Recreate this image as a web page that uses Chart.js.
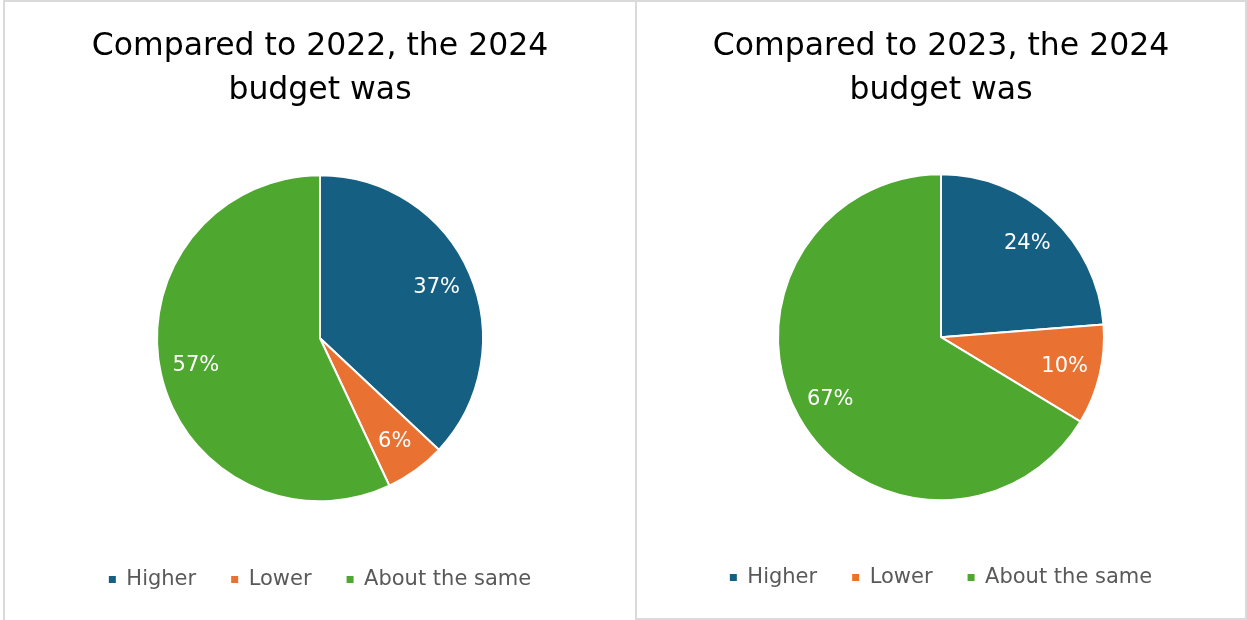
<!doctype html>
<html lang="en">
  <head>
    <meta charset="utf-8">
    <title>2024 budget comparison</title>
    <style>
      body { margin: 0; background: #fff; }
      .panel { position: absolute; top: 0; box-sizing: border-box; border: 2px solid #dadada; background: #fff; }
      #panel-left { left: 3px; width: 634px; height: 624px; }
      #panel-right { left: 635px; width: 612px; height: 620px; }
    </style>
  </head>
  <body>
    <div class="panel" id="panel-left"><canvas id="pie-2022"></canvas></div>
    <div class="panel" id="panel-right"><canvas id="pie-2023"></canvas></div>

    <script src="https://cdn.jsdelivr.net/npm/chart.js"></script>
    <script>
      // answers, share of respondents in percent
      var categories = ["Higher", "Lower", "About the same"]
      var vs2022 = [37, 6, 57]
      var vs2023 = [24, 10, 67]
      var sliceColors = ["#156082", "#E97132", "#4EA72E"]

      var fontFamily = "'DejaVu Sans', sans-serif"

      // white percent labels inside each slice
      var sliceLabels = {
        id: 'sliceLabels',
        afterDatasetsDraw: function(chart) {
          var ctx = chart.ctx
          var meta = chart.getDatasetMeta(0)
          var values = chart.data.datasets[0].data
          ctx.save()
          ctx.font = "21px " + fontFamily
          ctx.fillStyle = "#ffffff"
          ctx.textAlign = "center"
          ctx.textBaseline = "middle"
          meta.data.forEach(function(arc, i) {
            var p = arc.getProps(['x', 'y', 'startAngle', 'endAngle', 'outerRadius'], true)
            var mid = (p.startAngle + p.endAngle) / 2
            var r = p.outerRadius * 0.78
            ctx.fillText(values[i] + "%", p.x + Math.cos(mid) * r, p.y + Math.sin(mid) * r)
          })
          ctx.restore()
        }
      }

      // legend squares without the white slice outline
      function legendItems(chart) {
        var items = Chart.controllers.pie.overrides.plugins.legend.labels.generateLabels(chart)
        items.forEach(function(item) {
          item.lineWidth = 0
          item.strokeStyle = 'rgba(0,0,0,0)'
        })
        return items
      }

      function pie(canvasId, titleLines, values, width, height, bottomPad) {
        var canvas = document.getElementById(canvasId)
        canvas.width = width
        canvas.height = height
        return new Chart(canvas, {
          type: 'pie',
          data: {
            labels: categories,
            datasets: [{
              data: values,
              backgroundColor: sliceColors,
              borderColor: "#ffffff",
              borderWidth: 2,
              radius: 163
            }]
          },
          options: {
            responsive: false,
            animation: false,
            events: [],
            layout: { padding: { bottom: bottomPad } },
            plugins: {
              title: {
                display: true,
                text: titleLines,
                color: "#000000",
                font: { family: fontFamily, size: 31.5, weight: 'normal', lineHeight: 1.42 },
                padding: { top: 22, bottom: 29 }
              },
              legend: {
                position: 'bottom',
                labels: {
                  color: "#595959",
                  font: { family: fontFamily, size: 21 },
                  boxWidth: 7,
                  boxHeight: 7,
                  padding: 35,
                  generateLabels: legendItems
                }
              },
              tooltip: { enabled: false }
            }
          },
          plugins: [sliceLabels]
        })
      }

      pie("pie-2022", ["Compared to 2022, the 2024", "budget was"], vs2022, 630, 616, 18)
      pie("pie-2023", ["Compared to 2023, the 2024", "budget was"], vs2023, 608, 616, 20)
    </script>
  </body>
</html>
